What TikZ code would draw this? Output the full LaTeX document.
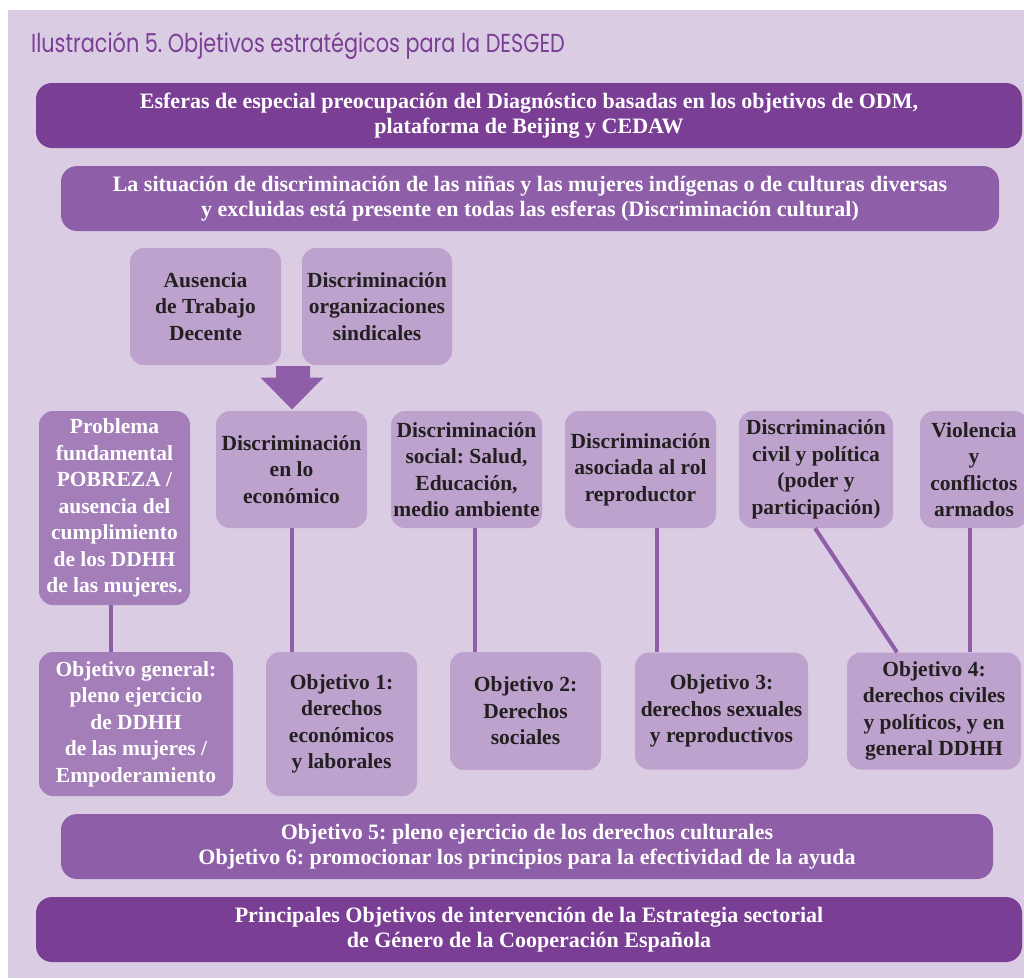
\documentclass[tikz,border=0pt]{standalone}
\usepackage{fontspec}
\setmainfont{Liberation Serif}
\newfontfamily\titlefont[FakeStretch=0.8]{Poppins}
\definecolor{bg}{HTML}{DACCE3}
\definecolor{dark}{HTML}{7B3E95}
\definecolor{mid}{HTML}{8E5FA8}
\definecolor{midlight}{HTML}{A47EB9}
\definecolor{light}{HTML}{BDA2CD}
\definecolor{ink}{HTML}{231F20}
\begin{document}
\frenchspacing
\begin{tikzpicture}[x=1pt,y=-1pt,
  box/.style={rounded corners=14pt, inner sep=0pt, align=center, font=\bfseries\fontsize{21.5}{26.5}\selectfont},
  widebox/.style={rounded corners=16pt, inner sep=0pt, align=center, font=\bfseries\fontsize{22}{25.5}\selectfont, text=white},
  lightbox/.style={box, fill=light, text=ink},
  midbox/.style={box, fill=midlight, text=white},
  conn/.style={draw=mid, line width=4pt},
  arrowshape/.style={fill=mid}
]
\useasboundingbox (0,0) rectangle (1024,978);
\fill[bg] (8,10) rectangle (1024,978);

\node[anchor=base west, inner sep=0pt, text=dark, font=\titlefont\fontsize{26}{30}\selectfont] (title) at (31,52) {Ilustración 5. Objetivos estratégicos para la DESGED};

\node[widebox, fill=dark, minimum width=986pt, minimum height=65pt] (esferas) at (529,115.5)
  {Esferas de especial preocupación del Diagnóstico basadas en los objetivos de ODM,\\plataforma de Beijing y CEDAW};
\node[widebox, fill=mid, minimum width=938pt, minimum height=65pt] (situacion) at (530,198.5)
  {La situación de discriminación de las niñas y las mujeres indígenas o de culturas diversas\\y excluidas está presente en todas las esferas (Discriminación cultural)};

\node[lightbox, minimum width=151pt, minimum height=117pt] (ausencia) at (205.5,306.5) {Ausencia\\de Trabajo\\Decente};
\node[lightbox, minimum width=150pt, minimum height=117pt] (sindical) at (377,306.5) {Discriminación\\organizaciones\\sindicales};

\node[midbox, minimum width=151pt, minimum height=194pt] (problema) at (114.5,508) {Problema\\fundamental\\POBREZA /\\ausencia del\\cumplimiento\\de los DDHH\\de las mujeres.};
\node[lightbox, minimum width=151pt, minimum height=117pt] (econ) at (291.5,469.5) {Discriminación\\en lo\\económico};
\node[lightbox, minimum width=151pt, minimum height=117pt] (social) at (466.5,469.5) {Discriminación\\social: Salud,\\Educación,\\medio ambiente};
\node[lightbox, minimum width=151pt, minimum height=117pt] (rol) at (640.5,469.5) {Discriminación\\asociada al rol\\reproductor};
\node[lightbox, minimum width=154pt, minimum height=117pt] (civil) at (816,469.5) {Discriminación\\civil y política\\(poder y\\participación)};
\node[lightbox, minimum width=108pt, minimum height=117pt] (violencia) at (974,469.5) {Violencia\\y\\conflictos\\armados};

\node[midbox, minimum width=194pt, minimum height=144pt] (objg) at (136,724) {Objetivo general:\\pleno ejercicio\\de DDHH\\de las mujeres /\\Empoderamiento};
\node[lightbox, minimum width=151pt, minimum height=144pt] (obj1) at (341.5,724) {Objetivo 1:\\derechos\\económicos\\y laborales};
\node[lightbox, minimum width=151pt, minimum height=118pt] (obj2) at (525.5,711) {Objetivo 2:\\Derechos\\sociales};
\node[lightbox, minimum width=173pt, minimum height=117pt] (obj3) at (721.5,711) {Objetivo 3:\\derechos sexuales\\y reproductivos};
\node[lightbox, minimum width=174pt, minimum height=117pt] (obj4) at (934,711) {Objetivo 4:\\derechos civiles\\y políticos, y en\\general DDHH};

\node[widebox, fill=mid, minimum width=932pt, minimum height=65pt] (obj56) at (527,846.5)
  {Objetivo 5: pleno ejercicio de los derechos culturales\\Objetivo 6: promocionar los principios para la efectividad de la ayuda};
\node[widebox, fill=dark, minimum width=986pt, minimum height=65pt] (principales) at (529,929.5)
  {Principales Objetivos de intervención de la Estrategia sectorial\\de Género de la Cooperación Española};

% arrow from the two top boxes to economic box
\fill[arrowshape] (276,366) -- (310,366) -- (310,377.5) -- (323.5,377.5) -- (292,409.5) -- (260.5,377.5) -- (276,377.5) -- cycle;

% connectors
\coordinate (lp) at (111,0);
\coordinate (le) at (292,0);
\coordinate (ls) at (475,0);
\coordinate (lr) at (657,0);
\coordinate (lc1) at (815,0);
\coordinate (lc2) at (897,0);
\coordinate (lv) at (970,0);
\draw[conn] (problema.south -| lp) -- (objg.north -| lp);
\draw[conn] (econ.south -| le) -- (obj1.north -| le);
\draw[conn] (social.south -| ls) -- (obj2.north -| ls);
\draw[conn] (rol.south -| lr) -- (obj3.north -| lr);
\draw[conn] (civil.south -| lc1) -- (obj4.north -| lc2);
\draw[conn] (violencia.south -| lv) -- (obj4.north -| lv);
\end{tikzpicture}
\end{document}
